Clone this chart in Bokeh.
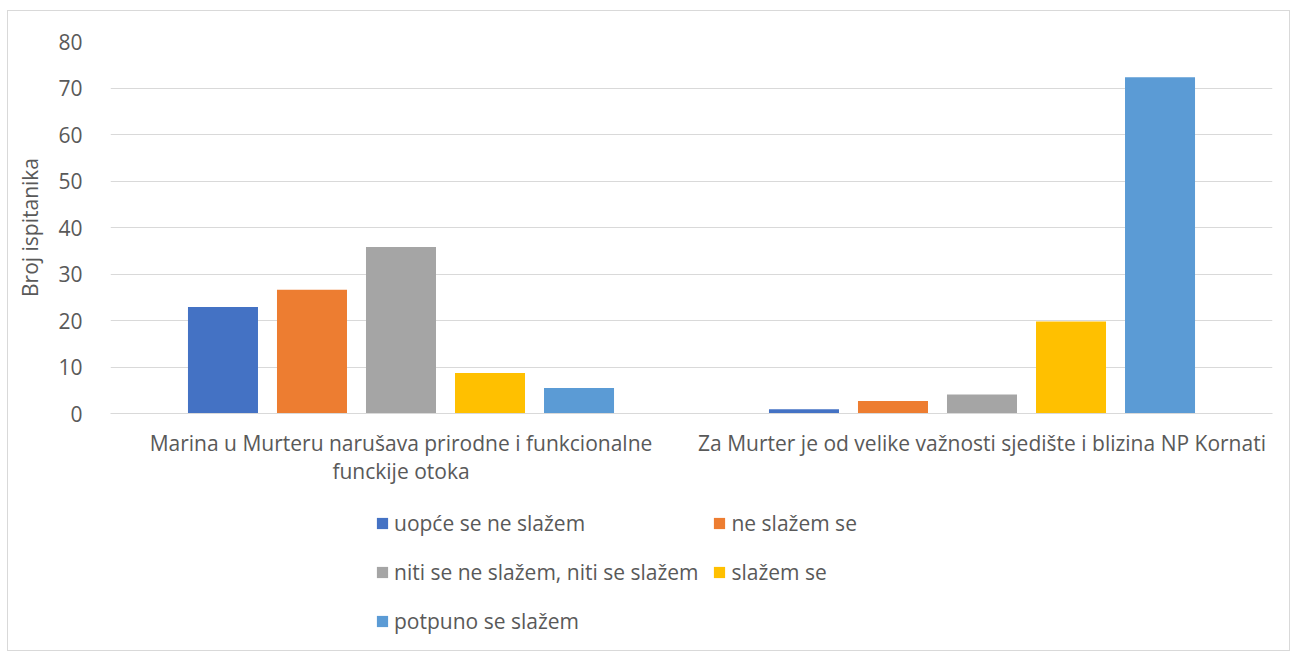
from bokeh.plotting import figure
from bokeh.layouts import column
from bokeh.models import (ColumnDataSource, FactorRange, Legend, LegendItem,
                          Range1d, SingleIntervalTicker)
from bokeh.transform import dodge
from bokeh.embed import file_html
from bokeh.resources import INLINE

categories = [
    "Marina u Murteru narušava prirodne i funkcionalne\nfunckije otoka",
    "Za Murter je od velike važnosti sjedište i blizina NP Kornati",
]
series = [
    "uopće se ne slažem",
    "ne slažem se",
    "niti se ne slažem, niti se slažem",
    "slažem se",
    "potpuno se slažem",
]
uopce = [22.9, 0.9]
ne_slazem = [26.6, 2.7]
niti = [35.8, 4.1]
slazem = [8.7, 19.8]
potpuno = [5.5, 72.3]
colors = ["#4472C4", "#ED7D31", "#A5A5A5", "#FFC000", "#5B9BD5"]

values = [uopce, ne_slazem, niti, slazem, potpuno]
data = {"cat": categories}
for i, v in enumerate(values):
    data["s%d" % i] = v
source = ColumnDataSource(data)

FONT = "Open Sans"
TXT = "#595959"
FS = "21px"

p = figure(x_range=FactorRange(*categories), y_range=Range1d(0, 80),
           width=1281, height=490, output_backend="svg",
           toolbar_location=None, min_border_left=102, min_border_right=17,
           min_border_top=30, min_border_bottom=88)
p.outline_line_color = None

step = 0.1532
bw = 0.1205
for i in range(5):
    p.vbar(x=dodge("cat", (i - 2) * step, range=p.x_range), top="s%d" % i,
           width=bw, source=source, fill_color=colors[i], line_color=None)

p.yaxis.ticker = SingleIntervalTicker(interval=10)
p.yaxis.axis_line_color = None
p.yaxis.major_tick_line_color = None
p.yaxis.minor_tick_line_color = None
p.yaxis.major_label_text_font = FONT
p.yaxis.major_label_text_font_size = FS
p.yaxis.major_label_text_color = TXT
p.yaxis.major_label_standoff = 22
p.yaxis.axis_label = "Broj ispitanika"
p.yaxis.axis_label_text_font = FONT
p.yaxis.axis_label_text_font_size = FS
p.yaxis.axis_label_text_font_style = "normal"
p.yaxis.axis_label_text_color = TXT
p.yaxis.axis_label_standoff = 11

p.xaxis.axis_line_color = "#d9d9d9"
p.xaxis.major_tick_line_color = None
p.xaxis.minor_tick_line_color = None
p.xaxis.major_label_text_font = FONT
p.xaxis.major_label_text_font_size = FS
p.xaxis.major_label_text_color = TXT
p.xaxis.major_label_text_line_height = 1.0
p.xaxis.major_label_standoff = 9

p.xgrid.grid_line_color = None
p.ygrid.grid_line_color = "#d9d9d9"
p.ygrid.grid_line_width = 1

# legend panel below the chart
lg = figure(width=1281, height=149, output_backend="svg", toolbar_location=None,
            x_axis_location=None, y_axis_location=None,
            min_border_left=0, min_border_right=0, min_border_top=0, min_border_bottom=0,
            x_range=Range1d(0, 1), y_range=Range1d(0, 1))
lg.outline_line_color = None
lg.grid.visible = False
items = []
for i, s in enumerate(series):
    r = lg.vbar(x=[-5.0], top=[-5.0], width=0.1, fill_color=colors[i], line_color=None)
    items.append(LegendItem(label=s, renderers=[r]))

legend = Legend(items=items, orientation="horizontal", nrows=3,
                location=(265, 12), border_line_color=None,
                background_fill_alpha=0,
                label_text_font=FONT, label_text_font_size=FS,
                label_text_color=TXT, glyph_width=14, glyph_height=14,
                label_standoff=5, label_height=35, spacing=14, padding=0, margin=0)
lg.add_layout(legend, "center")

layout = column(p, lg, spacing=0, margin=(10, 0, 0, 7))
layout.styles = {"border": "1px solid #d9d9d9"}

open("out.html", "w").write(file_html(layout, INLINE))
